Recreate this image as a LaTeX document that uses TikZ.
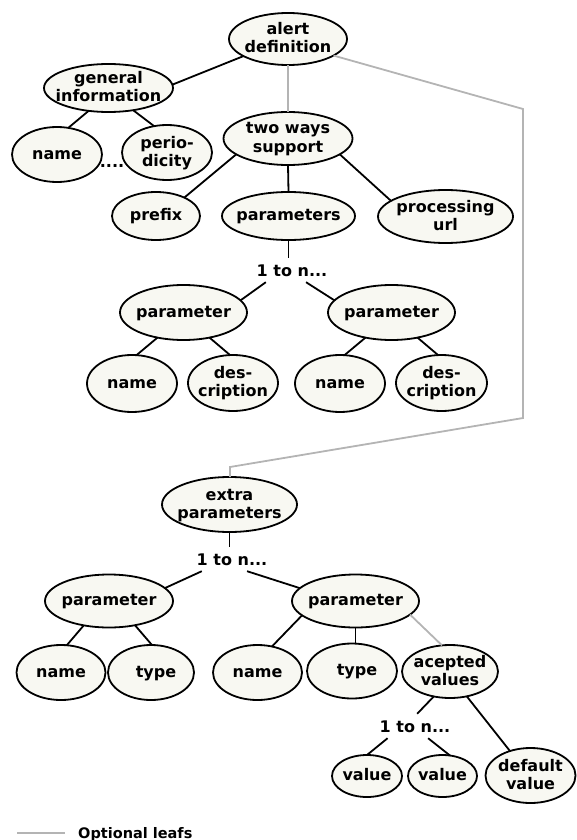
\documentclass[tikz,border=0pt]{standalone}
\usepackage{fontspec}
\setmainfont{DejaVu Sans}
\usetikzlibrary{shapes.geometric}
\definecolor{bubfill}{HTML}{F8F8F2}
\definecolor{optgray}{HTML}{B4B4B4}
\newcommand\st{\rule[-4pt]{0pt}{17pt}}
\newcommand\bub[5]{%
  \node[bubble, minimum width=#3pt, minimum height=#4pt] (#1) at (#2) {};
  \node[btext] (#1-t) at (#1) {#5};}
\tikzset{
  bubble/.style={ellipse, draw=black, line width=1.8pt, fill=bubfill, inner sep=0pt, outer sep=0pt},
  btext/.style={font=\bfseries\fontsize{16pt}{18pt}\selectfont, align=center, inner sep=0pt},
  tonode/.style={font=\bfseries\fontsize{16pt}{18pt}\selectfont, inner xsep=2pt, inner ysep=0pt,
    text height=12pt, text depth=0pt, minimum height=24pt},
  conn/.style={line width=1.8pt, black},
  opt/.style={line width=1.8pt, optgray}
}
\begin{document}
\begin{tikzpicture}[x=1pt,y=-1pt]
\useasboundingbox (0,0) rectangle (576,840);
% bubbles
\bub{ad}{288,39}{118}{52}{\st alert\\\st definition}
\bub{gi}{108.5,88}{129}{48}{\st general\\\st information}
\bub{n1}{57,154.5}{90}{55}{\st name}
\bub{per}{167,152.5}{90}{55}{\st perio-\\\st dicity}
\bub{tws}{288,138.5}{129}{53}{\st two ways\\\st support}
\bub{pre}{156,216}{88}{48}{\st prefix}
\bub{pars}{288.5,216}{133}{48}{\st parameters}
\bub{pu}{445.5,216.5}{135}{53}{\st processing\\\st url}
\bub{p1}{183.5,312.5}{127}{55}{\st parameter}
\bub{p2}{391.5,312.5}{127}{55}{\st parameter}
\bub{n2}{132,383.5}{90}{57}{\st name}
\bub{d1}{233,383}{90}{56}{\st des-\\\st cription}
\bub{n3}{340,383.5}{90}{57}{\st name}
\bub{d2}{441.5,383}{91}{56}{\st des-\\\st cription}
\bub{ep}{229.5,504.5}{135}{55}{\st extra\\\st parameters}
\bub{p3}{109,601}{128}{53}{\st parameter}
\bub{p4}{355.5,601}{127}{53}{\st parameter}
\bub{n4}{61,672.5}{89}{55}{\st name}
\bub{t1}{151,672.5}{86}{55}{\hspace*{10pt}\st type}
\bub{n5}{257.5,672.5}{89}{55}{\st name}
\bub{t2}{352,671}{90}{55}{\hspace*{10pt}\st type}
\bub{av}{450,671.5}{96}{53}{\st acepted\\\st values}
\bub{v1}{367,776}{70}{42}{\st value}
\bub{v2}{442.5,776}{69}{42}{\st value}
\bub{dv}{530.5,775.5}{90}{55}{\st default\\\st value}
% "1 to n..." labels and dots
\node[tonode] (ton1) at (292,270) {1 to n...};
\node[tonode] (ton2) at (232,559) {1 to n...};
\node[tonode] (ton3) at (415,726) {1 to n...};
\node[btext, anchor=base] (dots) at (112,167) {....};
% gray route
\coordinate (g1) at (523,109);
\coordinate (g2) at (523,418);
\coordinate (g3) at (230,467);
% connectors
\draw[conn] (ad.201) -- (gi.3);
\draw[opt] (ad.south) -- (tws.north);
\draw[opt] (ad.340) -- (g1) -- (g2) -- (g3) -- (g3 |- ep.north);
\draw[conn] (gi.229) -- (n1.67);
\draw[conn] (gi.318) -- (per.116);
\draw[conn] (tws.197) -- (pre.33);
\draw[conn] (tws.south) -- (pars.north);
\draw[conn] (tws.343) -- (pu.164);
\draw[conn] (pars.south) -- (pars.south |- ton1.north);
\draw[conn] (ton1.205) -- (p1.12);
\draw[conn] (ton1.319) -- (p2.168);
\draw[conn] (p1.224) -- (n2.81);
\draw[conn] (p1.316) -- (d1.96);
\draw[conn] (p2.224) -- (n3.81);
\draw[conn] (p2.316) -- (d2.97);
\draw[conn] (ep.south) -- (ep.south |- ton2.north);
\draw[conn] (ton2.202) -- (p3.13);
\draw[conn] (ton2.321) -- (p4.167);
\draw[conn] (p3.224) -- (n4.78);
\draw[conn] (p3.317) -- (t1.88);
\draw[conn] (p4.195) -- (n5.61);
\draw[conn] (p4.south) -- (p4.south |- t2.north);
\draw[opt] (p4.346) -- (av.107);
\draw[conn] (av.237) -- (ton3.80);
\draw[conn] (av.304) -- (dv.130);
\draw[conn] (ton3.204) -- (v1.90);
\draw[conn] (ton3.317) -- (v2.70);
% legend
\coordinate (l1) at (17,833);
\coordinate (l2) at (65,833);
\draw[opt] (l1) -- (l2);
\node[anchor=base west, inner sep=0pt, font=\bfseries\fontsize{14.5pt}{16pt}\selectfont] (leg) at (78,838) {Optional leafs};
\end{tikzpicture}
\end{document}
